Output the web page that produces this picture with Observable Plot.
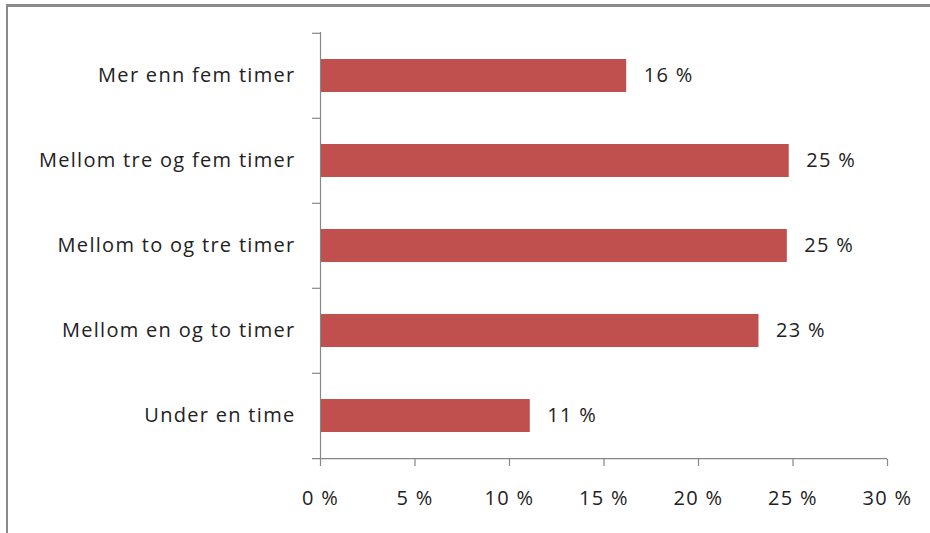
<!DOCTYPE html>
<html>
<head>
<meta charset="utf-8">
<script src="https://cdn.jsdelivr.net/npm/d3@7"></script>
<script src="https://cdn.jsdelivr.net/npm/@observablehq/plot@0.6"></script>
<style>
  html, body { margin: 0; padding: 0; background: #fff; }
  #wrap { position: relative; width: 930px; height: 533px; overflow: hidden; }
  #frame { position: absolute; left: 6px; top: 4px; width: 940px; height: 540px;
           border-top: 3px solid #8a8a8a; border-left: 2px solid #8a8a8a; box-sizing: border-box; }
  #chart { position: absolute; left: 0; top: 0; }
  #chart text { letter-spacing: 1.3px; }
</style>
</head>
<body>
<div id="wrap"><div id="frame"></div><div id="chart"></div></div>
<script>
const categories = ["Mer enn fem timer", "Mellom tre og fem timer", "Mellom to og tre timer", "Mellom en og to timer", "Under en time"];
const values = [16.2, 24.8, 24.7, 23.2, 11.1];
const valueLabels = ["16 %", "25 %", "25 %", "23 %", "11 %"];
const xTicks = [0, 5, 10, 15, 20, 25, 30];

const data = categories.map((c, i) => ({cat: c, value: values[i], label: valueLabels[i]}));

const W = 930, H = 533;
const mL = 320, mR = 43, mT = 32, mB = 74;
const step = (H - mT - mB) / categories.length;
const xPerPx = 30 / (W - mL - mR);
const font = "'Open Sans', sans-serif";

const chart = Plot.plot({
  width: W,
  height: H,
  marginLeft: mL,
  marginRight: mR,
  marginTop: mT,
  marginBottom: mB,
  style: {fontFamily: font, fontSize: "20px", color: "#222", background: "transparent", overflow: "visible"},
  x: {domain: [0, 30], ticks: xTicks},
  y: {domain: categories, paddingInner: 0.61, paddingOuter: 0.305},
  marks: [
    Plot.barX(data, {y: "cat", x: "value", fill: "#C0504D"}),
    Plot.text(data, {y: "cat", x: "value", text: "label", textAnchor: "start", dx: 17, fill: "#222", fontSize: 20}),
    // y axis line
    Plot.ruleX([0], {stroke: "#878787", strokeWidth: 1.2}),
    // category boundary ticks on y axis (top of each band)
    Plot.ruleY(categories, {y: d => d, x1: -8 * xPerPx, x2: 0, dy: -step / 2, stroke: "#878787", strokeWidth: 1.2, clip: false}),
    // bottom axis line extending left
    Plot.ruleY([categories[categories.length - 1]], {y: d => d, x1: -8 * xPerPx, x2: 30, dy: step / 2, stroke: "#878787", strokeWidth: 1.2, clip: false}),
    Plot.axisX({ticks: xTicks, tickSize: 7, tickPadding: 24, stroke: "#878787", strokeWidth: 1.2,
      tickFormat: d => d + " %", fill: "#222", fontSize: 20, label: null}),
    Plot.axisY({tickSize: 0, tickPadding: 25, fill: "#222", fontSize: 20, label: null})
  ]
});
document.getElementById("chart").appendChild(chart);
</script>
</body>
</html>
